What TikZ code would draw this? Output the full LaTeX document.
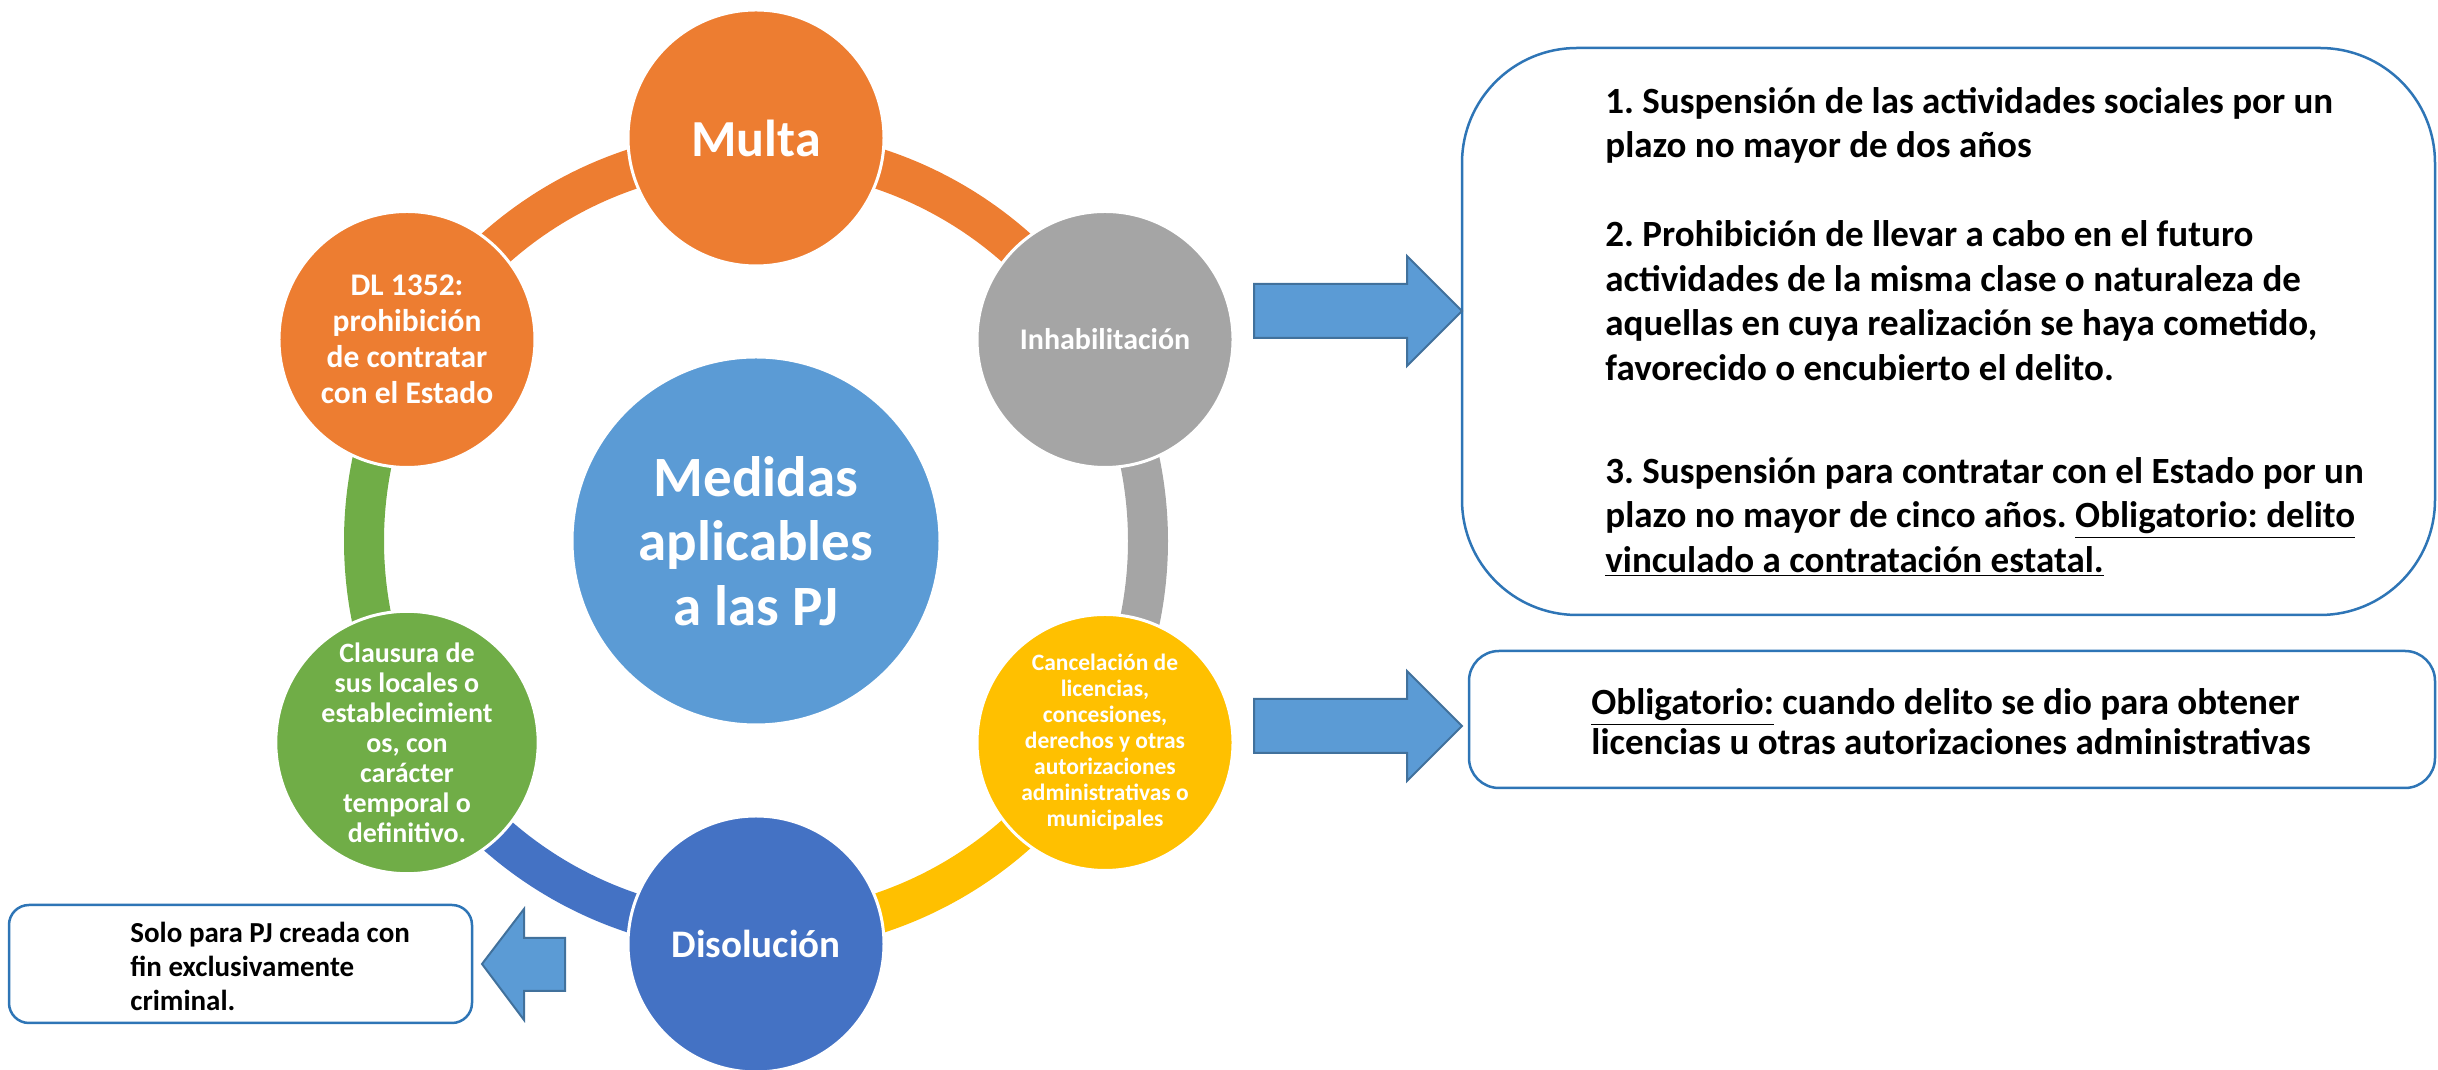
\documentclass[tikz,border=0pt]{standalone}
\usepackage{fontspec}
\setmainfont{Carlito}
\usepackage{tikz}
\usetikzlibrary{positioning}

\definecolor{naranja}{HTML}{ED7D31}
\definecolor{gris}{HTML}{A5A5A5}
\definecolor{amarillo}{HTML}{FFC000}
\definecolor{azulosc}{HTML}{4472C4}
\definecolor{verde}{HTML}{70AD47}
\definecolor{celeste}{HTML}{5B9BD5}
\definecolor{bordecaja}{HTML}{2E75B6}
\definecolor{bordeflecha}{HTML}{41719C}

\newcommand{\tam}[2]{\fontsize{#1}{#2}\selectfont}
\frenchspacing

\begin{document}
\begin{tikzpicture}[x=0.5pt, y=0.5pt]
  \tikzset{
    etapa/.style={circle, fill=#1, draw=white, line width=1.5pt, minimum size=128pt,
      inner sep=0pt, text=white, align=center},
    anillo/.style={draw=#1, line width=20pt},
    caja/.style={rectangle, draw=bordecaja, line width=1.25pt, fill=white, inner sep=0pt},
    texto/.style={anchor=west, align=left, inner sep=0pt},
    flecha/.style={fill=celeste, draw=bordeflecha, line width=1pt}
  }
  \useasboundingbox (0,0) rectangle (2438,1070);

  \coordinate (centro) at (756,529);

  % ring segments
  \foreach \a/\c in {150/naranja, 90/naranja, 30/gris, -30/amarillo, -90/azulosc, -150/verde} {
    \draw [anillo=\c] ([shift={(\a:196pt)}]centro) arc [start angle=\a, end angle=\a-60, radius=196pt];
  }

  % circles
  \node [etapa=celeste, minimum size=184pt, font=\bfseries\tam{28.5pt}{32.25pt}] (medidas) at (centro)
    {Medidas\\aplicables\\a las PJ};
  \node [etapa=naranja, font=\bfseries\tam{26pt}{30pt}] (multa) at ([shift={(90:201.5pt)}]centro) {Multa};
  \node [etapa=gris, font=\bfseries\tam{15pt}{18pt}] (inhab) at ([shift={(30:201.5pt)}]centro) {Inhabilitación};
  \node [etapa=amarillo, font=\bfseries\tam{11.75pt}{13pt}] (cancel) at ([shift={(-30:201.5pt)}]centro)
    {Cancelación de\\licencias,\\concesiones,\\derechos y otras\\autorizaciones\\administrativas o\\municipales};
  \node [etapa=azulosc, font=\bfseries\tam{19.5pt}{22pt}] (disol) at ([shift={(-90:201.5pt)}]centro) {Disolución};
  \node [etapa=verde, font=\bfseries\tam{14pt}{15pt}] (clausura) at ([shift={(-150:201.5pt)}]centro)
    {Clausura de\\sus locales o\\establecimient\\os, con\\carácter\\temporal o\\definitivo.};
  \node [etapa=naranja, font=\bfseries\tam{15.75pt}{18pt}] (dl) at ([shift={(150:201.5pt)}]centro)
    {DL 1352:\\prohibición\\de contratar\\con el Estado};

  % boxes
  \node [caja, rounded corners=57.5pt, minimum width=486.5pt, minimum height=283.5pt] (inhabcaja) at (1948.5,738.5) {};
  \node [texto, font=\bfseries\tam{18.5pt}{22.25pt}] (inhabtexto) at (1605,738)
    {1. Suspensión de las actividades sociales por un\\
     plazo no mayor de dos años\\[22.25pt]
     2. Prohibición de llevar a cabo en el futuro\\
     actividades de la misma clase o naturaleza de\\
     aquellas en cuya realización se haya cometido,\\
     favorecido o encubierto el delito.\\[29.25pt]
     3. Suspensión para contratar con el Estado por un\\
     plazo no mayor de cinco años. \underline{Obligatorio: delito}\\
     \underline{vinculado a contratación estatal.}};

  \node [caja, rounded corners=15pt, minimum width=483pt, minimum height=68.5pt] (cancelcaja) at (1952,350.5) {};
  \node [texto, font=\bfseries\tam{18.5pt}{20pt}] (canceltexto) at (1591,348)
    {\underline{Obligatorio:} cuando delito se dio para obtener\\
     licencias u otras autorizaciones administrativas};

  \node [caja, rounded corners=10pt, minimum width=231.5pt, minimum height=59pt] (disolcaja) at (240.5,106) {};
  \node [texto, font=\bfseries\tam{14.5pt}{17pt}] (disoltexto) at (130,104)
    {Solo para PJ creada con\\fin exclusivamente\\criminal.};

  % arrows
  \foreach \yc in {759, 344} {
    \draw [flecha] (1254,{\yc+27}) -- (1407,{\yc+27}) -- (1407,{\yc+55}) -- (1462,\yc)
      -- (1407,{\yc-55}) -- (1407,{\yc-27}) -- (1254,{\yc-27}) -- cycle;
  }
  \draw [flecha] (565,132) -- (524,132) -- (524,161) -- (482,106) -- (524,50) -- (524,79) -- (565,79) -- cycle;

\end{tikzpicture}
\end{document}
